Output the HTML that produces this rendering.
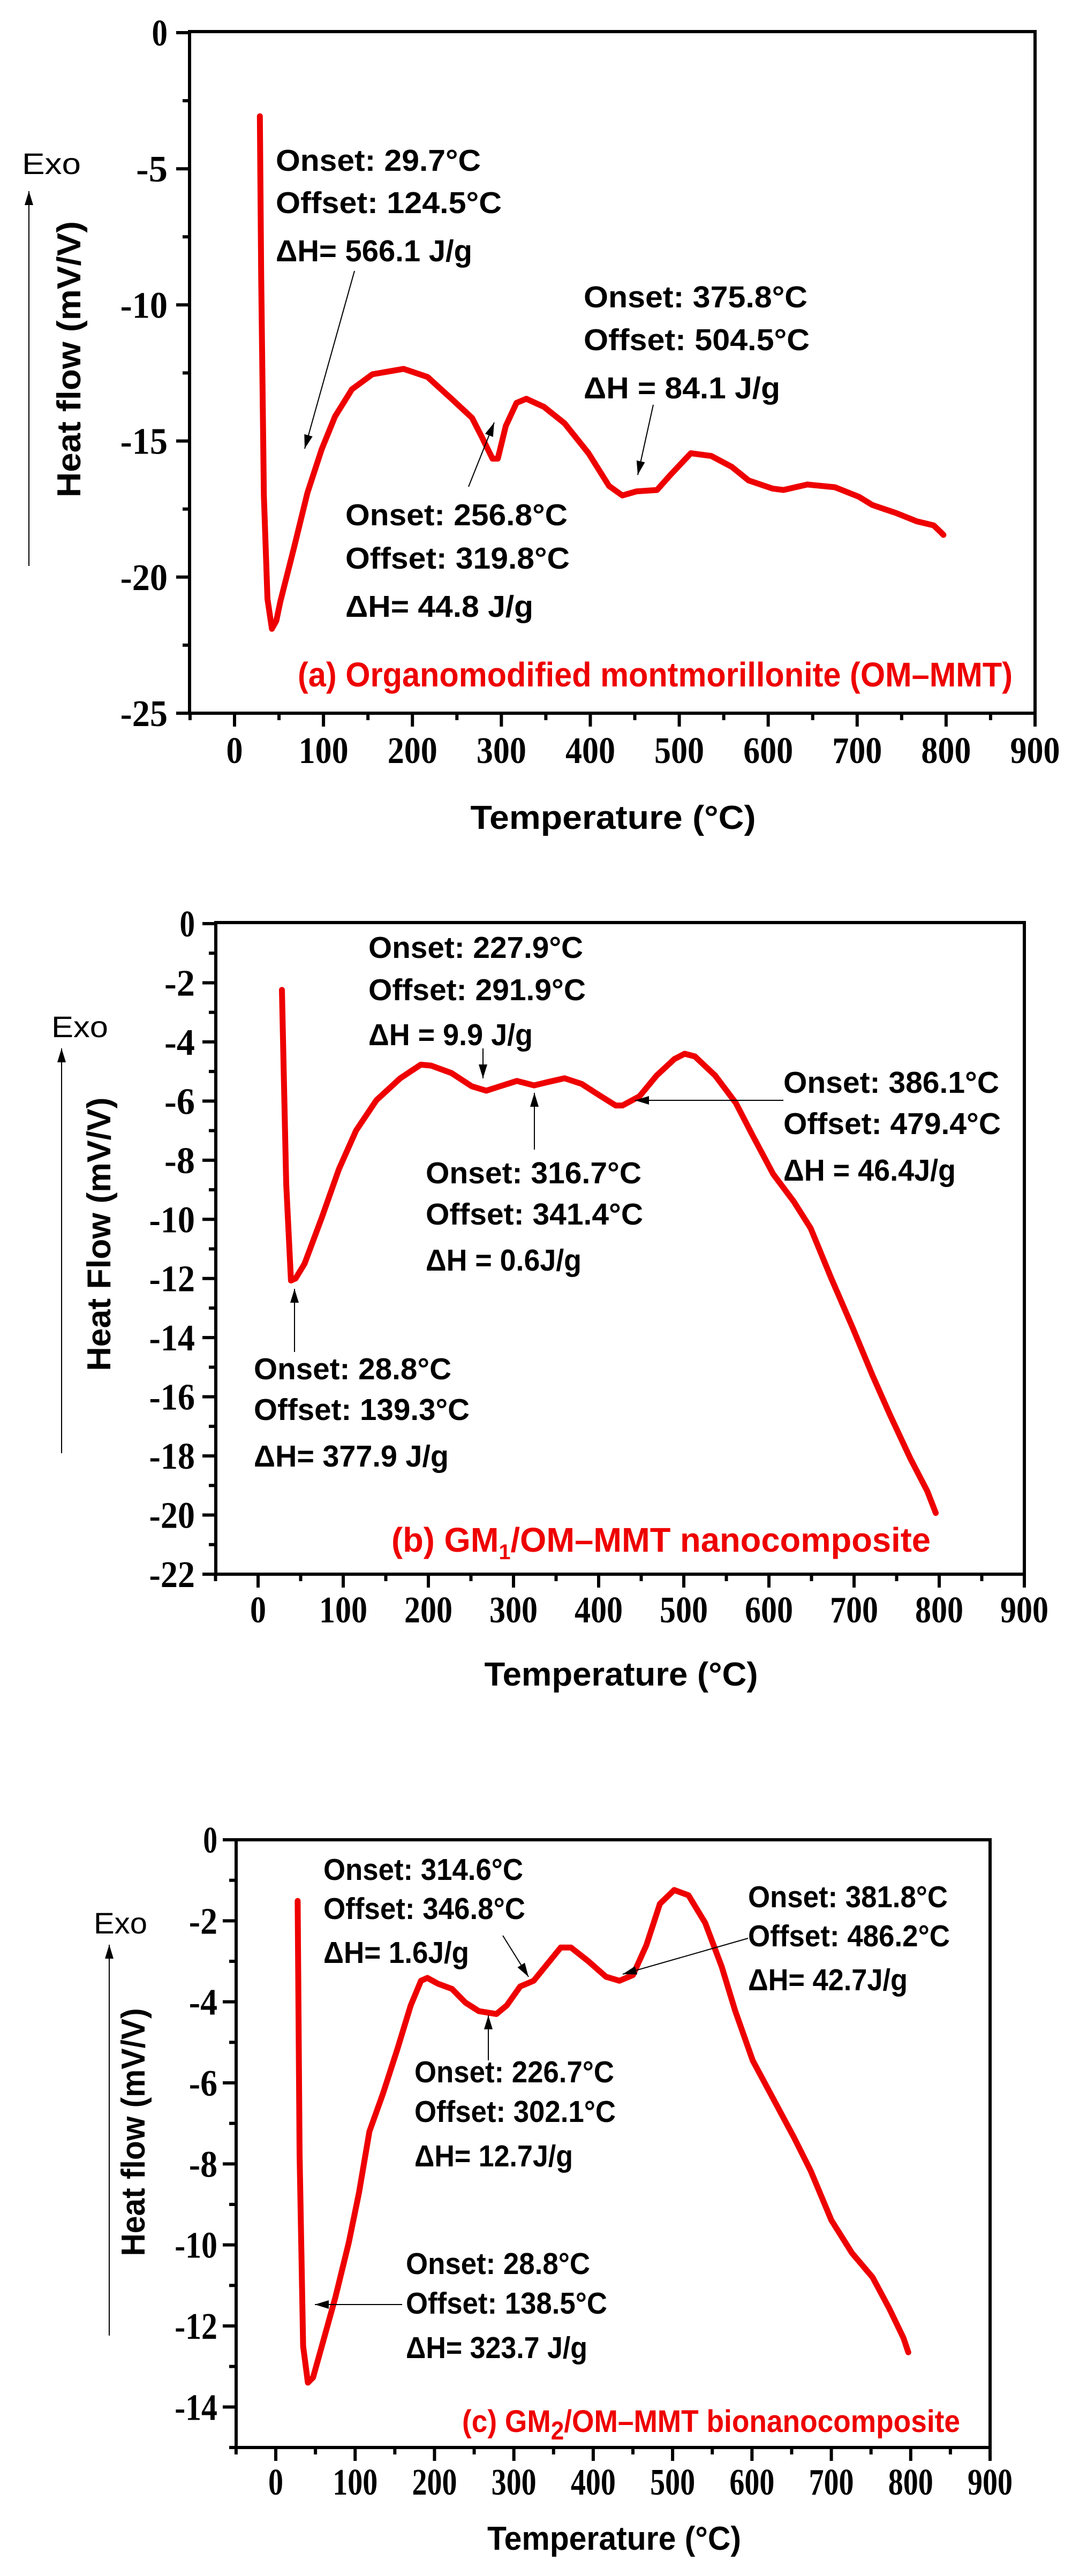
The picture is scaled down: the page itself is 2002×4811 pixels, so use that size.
<!DOCTYPE html>
<html><head><meta charset="utf-8"><style>
html,body{margin:0;padding:0;background:#fff;}
svg{display:block;}
.ann{font-family:"Liberation Sans",sans-serif;font-weight:bold;font-size:57px;fill:#000;}
.red{font-family:"Liberation Sans",sans-serif;font-weight:bold;fill:#ee0000;}
.exo{font-family:"Liberation Sans",sans-serif;font-size:56px;fill:#000;}
.ttl{font-family:"Liberation Sans",sans-serif;font-weight:bold;font-size:62px;fill:#000;}
.tick{font-family:"Liberation Serif",serif;font-weight:bold;font-size:70px;fill:#000;}
</style></head><body>
<svg id="fig" width="2002" height="4811" viewBox="0 0 2002 4811" xmlns="http://www.w3.org/2000/svg">
<defs><marker id="ah" viewBox="0 0 10 10" refX="10" refY="5" markerWidth="10" markerHeight="10" markerUnits="userSpaceOnUse" orient="auto"><path d="M0,0 L10,5 L0,10 z" fill="#000"/></marker>
<marker id="ahb" viewBox="0 0 10 10" refX="10" refY="5" markerWidth="26" markerHeight="16" markerUnits="userSpaceOnUse" orient="auto" preserveAspectRatio="none"><path d="M0,0 L10,5 L0,10 z" fill="#000"/></marker></defs>

<!-- Chart A -->
<g>
<g id="axA"></g>
<g id="curveA"></g>
<text class="exo" x="41" y="325" textLength="110" lengthAdjust="spacingAndGlyphs">Exo</text>
<line x1="54" y1="1057" x2="54" y2="357" stroke="#000" stroke-width="2" marker-end="url(#ahb)"/>
<text class="ttl" transform="translate(150,671) rotate(-90)" text-anchor="middle" textLength="516" lengthAdjust="spacingAndGlyphs">Heat flow (mV/V)</text>
<text class="ttl" x="1145" y="1548" text-anchor="middle" textLength="533" lengthAdjust="spacingAndGlyphs">Temperature (°C)</text>
<g>
<text class="ann" x="515" y="319" textLength="383" lengthAdjust="spacingAndGlyphs">Onset: 29.7°C</text>
<text class="ann" x="515" y="398" textLength="422" lengthAdjust="spacingAndGlyphs">Offset: 124.5°C</text>
<text class="ann" x="515" y="488" textLength="367" lengthAdjust="spacingAndGlyphs">ΔH= 566.1 J/g</text>
<line x1="662" y1="506" x2="569" y2="838" stroke="#000" stroke-width="2" marker-end="url(#ahb)"/></g>
<g>
<text class="ann" x="1090" y="574" textLength="418" lengthAdjust="spacingAndGlyphs">Onset: 375.8°C</text>
<text class="ann" x="1090" y="654" textLength="422" lengthAdjust="spacingAndGlyphs">Offset: 504.5°C</text>
<text class="ann" x="1090" y="744" textLength="367" lengthAdjust="spacingAndGlyphs">ΔH =  84.1 J/g</text>
<line x1="1220" y1="756" x2="1191" y2="887" stroke="#000" stroke-width="2" marker-end="url(#ahb)"/></g>
<g>
<text class="ann" x="645" y="981" textLength="415" lengthAdjust="spacingAndGlyphs">Onset: 256.8°C</text>
<text class="ann" x="645" y="1062" textLength="419" lengthAdjust="spacingAndGlyphs">Offset: 319.8°C</text>
<text class="ann" x="645" y="1152" textLength="351" lengthAdjust="spacingAndGlyphs">ΔH=  44.8 J/g</text>
<line x1="875" y1="909" x2="923" y2="789" stroke="#000" stroke-width="2" marker-end="url(#ahb)"/></g>
<text class="red" x="556" y="1282" font-size="64" textLength="1335" lengthAdjust="spacingAndGlyphs">(a) Organomodified montmorillonite (OM–MMT)</text>
</g>

<!-- Chart B -->
<g>
<g id="axB"></g>
<g id="curveB"></g>
<text class="exo" x="96" y="1937" textLength="106" lengthAdjust="spacingAndGlyphs">Exo</text>
<line x1="115" y1="2714" x2="115" y2="1958" stroke="#000" stroke-width="2" marker-end="url(#ahb)"/>
<text class="ttl" transform="translate(206,2305) rotate(-90)" text-anchor="middle" textLength="511" lengthAdjust="spacingAndGlyphs">Heat Flow (mV/V)</text>
<text class="ttl" x="1160" y="3148" text-anchor="middle" textLength="511" lengthAdjust="spacingAndGlyphs">Temperature (°C)</text>
<g>
<text class="ann" x="688" y="1789" textLength="401" lengthAdjust="spacingAndGlyphs">Onset: 227.9°C</text>
<text class="ann" x="688" y="1868" textLength="406" lengthAdjust="spacingAndGlyphs">Offset: 291.9°C</text>
<text class="ann" x="688" y="1952" textLength="307" lengthAdjust="spacingAndGlyphs">ΔH = 9.9 J/g</text>
<line x1="902" y1="1958" x2="902" y2="2014" stroke="#000" stroke-width="2" marker-end="url(#ahb)"/></g>
<g>
<text class="ann" x="795" y="2210" textLength="403" lengthAdjust="spacingAndGlyphs">Onset: 316.7°C</text>
<text class="ann" x="795" y="2287" textLength="406" lengthAdjust="spacingAndGlyphs">Offset: 341.4°C</text>
<text class="ann" x="795" y="2373" textLength="291" lengthAdjust="spacingAndGlyphs">ΔH = 0.6J/g</text>
<line x1="998" y1="2147" x2="998" y2="2041" stroke="#000" stroke-width="2" marker-end="url(#ahb)"/></g>
<g>
<text class="ann" x="1463" y="2041" textLength="403" lengthAdjust="spacingAndGlyphs">Onset: 386.1°C</text>
<text class="ann" x="1463" y="2118" textLength="406" lengthAdjust="spacingAndGlyphs">Offset: 479.4°C</text>
<text class="ann" x="1463" y="2205" textLength="322" lengthAdjust="spacingAndGlyphs">ΔH = 46.4J/g</text>
<line x1="1463" y1="2055" x2="1186" y2="2055" stroke="#000" stroke-width="2" marker-end="url(#ahb)"/></g>
<g>
<text class="ann" x="474" y="2576" textLength="369" lengthAdjust="spacingAndGlyphs">Onset: 28.8°C</text>
<text class="ann" x="474" y="2652" textLength="403" lengthAdjust="spacingAndGlyphs">Offset: 139.3°C</text>
<text class="ann" x="474" y="2739" textLength="364" lengthAdjust="spacingAndGlyphs">ΔH=  377.9 J/g</text>
<line x1="550" y1="2525" x2="550" y2="2407" stroke="#000" stroke-width="2" marker-end="url(#ahb)"/></g>
<text class="red" x="731" y="2898" font-size="64" textLength="1007" lengthAdjust="spacingAndGlyphs">(b) GM<tspan font-size="40" dy="14">1</tspan><tspan dy="-14">/OM–MMT nanocomposite</tspan></text>
</g>

<!-- Chart C -->
<g>
<g id="axC"></g>
<g id="curveC"></g>
<text class="exo" x="175" y="3611" textLength="100" lengthAdjust="spacingAndGlyphs">Exo</text>
<line x1="204" y1="4362" x2="204" y2="3632" stroke="#000" stroke-width="2" marker-end="url(#ahb)"/>
<text class="ttl" transform="translate(270,3982) rotate(-90)" text-anchor="middle" textLength="463" lengthAdjust="spacingAndGlyphs">Heat flow (mV/V)</text>
<text class="ttl" x="1147" y="4762" text-anchor="middle" textLength="474" lengthAdjust="spacingAndGlyphs">Temperature (°C)</text>
<g>
<text class="ann" x="604" y="3511" textLength="373" lengthAdjust="spacingAndGlyphs">Onset: 314.6°C</text>
<text class="ann" x="604" y="3584" textLength="377" lengthAdjust="spacingAndGlyphs">Offset: 346.8°C</text>
<text class="ann" x="604" y="3666" textLength="272" lengthAdjust="spacingAndGlyphs">ΔH=  1.6J/g</text>
<line x1="939" y1="3615" x2="987" y2="3692" stroke="#000" stroke-width="2" marker-end="url(#ahb)"/></g>
<g>
<text class="ann" x="1397" y="3562" textLength="373" lengthAdjust="spacingAndGlyphs">Onset: 381.8°C</text>
<text class="ann" x="1397" y="3635" textLength="377" lengthAdjust="spacingAndGlyphs">Offset: 486.2°C</text>
<text class="ann" x="1397" y="3717" textLength="298" lengthAdjust="spacingAndGlyphs">ΔH=  42.7J/g</text>
<line x1="1397" y1="3620" x2="1163" y2="3687" stroke="#000" stroke-width="2" marker-end="url(#ahb)"/></g>
<g>
<text class="ann" x="774" y="3889" textLength="373" lengthAdjust="spacingAndGlyphs">Onset: 226.7°C</text>
<text class="ann" x="774" y="3963" textLength="376" lengthAdjust="spacingAndGlyphs">Offset: 302.1°C</text>
<text class="ann" x="774" y="4046" textLength="296" lengthAdjust="spacingAndGlyphs">ΔH=  12.7J/g</text>
<line x1="912" y1="3848" x2="912" y2="3764" stroke="#000" stroke-width="2" marker-end="url(#ahb)"/></g>
<g>
<text class="ann" x="758" y="4247" textLength="344" lengthAdjust="spacingAndGlyphs">Onset: 28.8°C</text>
<text class="ann" x="758" y="4321" textLength="376" lengthAdjust="spacingAndGlyphs">Offset: 138.5°C</text>
<text class="ann" x="758" y="4404" textLength="339" lengthAdjust="spacingAndGlyphs">ΔH=  323.7 J/g</text>
<line x1="751" y1="4304" x2="588" y2="4304" stroke="#000" stroke-width="2" marker-end="url(#ahb)"/></g>
<text class="red" x="863" y="4542" font-size="58" textLength="930" lengthAdjust="spacingAndGlyphs">(c) GM<tspan font-size="48" dy="14">2</tspan><tspan dy="-14">/OM–MMT bionanocomposite</tspan></text>
</g>
</svg>
<script>
const xTicks=[0,100,200,300,400,500,600,700,800,900];
const yTicksA=[0,-5,-10,-15,-20,-25];
const yTicksB=[0,-2,-4,-6,-8,-10,-12,-14,-16,-18,-20,-22];
const yTicksC=[0,-2,-4,-6,-8,-10,-12,-14];
const tempA=[28.5,30,33,37,42,47,51.5,67,82,98,113,132,155,190,217,244,267,278,290,296,305,317,328,348,371,398,421,436,452,475,490,513,536,559,578,605,617,644,675,702,717,744,767,786,794,797];
const flowA=[-3.07,-9,-17,-20.8,-21.9,-21.6,-20.9,-18.9,-16.9,-15.3,-14.1,-13.1,-12.55,-12.35,-12.65,-13.45,-14.15,-14.85,-15.65,-15.65,-14.45,-13.6,-13.45,-13.75,-14.35,-15.45,-16.65,-17.0,-16.85,-16.8,-16.25,-15.45,-15.55,-15.95,-16.45,-16.75,-16.8,-16.6,-16.7,-17.05,-17.35,-17.65,-17.95,-18.1,-18.35,-18.45];
const tempB=[28,33,38.6,44,54.6,74.7,95,115,139,167,191,203,227,251,268,284,304,324,340,360,380,400,420,428,448,468,489,501,513,537,561,581,605,629,649,673,698,722,742,766,786,796];
const flowB=[-2.24,-8.8,-12.07,-12.0,-11.5,-9.95,-8.3,-7.0,-5.97,-5.23,-4.77,-4.8,-5.05,-5.5,-5.65,-5.5,-5.32,-5.47,-5.36,-5.23,-5.42,-5.79,-6.15,-6.15,-5.84,-5.14,-4.58,-4.4,-4.49,-5.14,-6.06,-7.17,-8.47,-9.39,-10.3,-11.98,-13.64,-15.3,-16.6,-18.08,-19.19,-19.93];
const tempC=[27.6,30,34.5,40.5,47,58,75,92,105,118,135,153,170,183,191,204,222,239,256,278,291,308,325,342,359,372,394,416,433,450,467,484,502,520,541,562,579,601,627,653,674,700,726,752,773,791,797];
const flowC=[-1.51,-7.76,-12.5,-13.4,-13.27,-12.5,-11.3,-9.94,-8.7,-7.2,-6.27,-5.18,-4.09,-3.48,-3.41,-3.55,-3.68,-4.02,-4.23,-4.3,-4.09,-3.62,-3.48,-3.07,-2.66,-2.66,-3.0,-3.38,-3.48,-3.34,-2.6,-1.58,-1.24,-1.37,-2.05,-3.14,-4.23,-5.45,-6.4,-7.35,-8.17,-9.39,-10.2,-10.8,-11.57,-12.3,-12.65];

const NS='http://www.w3.org/2000/svg';
function mk(tag,attrs,parent){const e=document.createElementNS(NS,tag);for(const k in attrs)e.setAttribute(k,attrs[k]);parent.appendChild(e);return e;}

function drawChart(axId,curveId,g,yTicks,yMinorStep,temps,flows){
  const ax=document.getElementById(axId);
  const sx=v=>g.x0+(v-0)*(g.x900-g.x0)/900;
  const sy=v=>g.y0+(v-0)*(g.yMinPx-g.y0)/g.yMin;
  // box
  const box=mk('rect',{x:g.left,y:g.top,width:g.right-g.left,height:g.bottom-g.top,fill:'none',stroke:'#000','stroke-width':6},ax);
  
  
  // x ticks
  for(let t=-50;t<=900;t+=50){
    const X=sx(t); const major=(t%100===0);
    const tk=mk('line',{x1:X,y1:g.bottom,x2:X,y2:g.bottom+(major?25:13),stroke:'#000','stroke-width':6},ax);
    
    
  }
  xTicks.forEach(t=>{
    const s=String(t);
    const lb=mk('text',{x:sx(t),y:g.xLabelY,'text-anchor':'middle','class':'tick',textLength:g.cw*s.length,lengthAdjust:'spacingAndGlyphs'},ax);
    lb.textContent=s;
    
    
  });
  // y ticks
  const ymin=yTicks[yTicks.length-1];
  for(let v=0;v>=g.yBottomVal-1e-9;v-=yMinorStep){
    const Y=sy(v); const major=yTicks.some(t=>Math.abs(t-v)<1e-9);
    const tk=mk('line',{x1:g.left,y1:Y,x2:g.left-(major?25:13),y2:Y,stroke:'#000','stroke-width':6},ax);
    
    
  }
  yTicks.forEach(t=>{
    const s=String(t);
    const lb=mk('text',{x:g.yLabelX,y:sy(t)+24,'text-anchor':'end','class':'tick',textLength:g.cw*s.length*0.95,lengthAdjust:'spacingAndGlyphs'},ax);
    lb.textContent=s;
    
    
  });
  // curve
  const cg=document.getElementById(curveId);
  const pts=temps.map((t,i)=>sx(t).toFixed(1)+','+sy(flows[i]).toFixed(1)).join(' ');
  const pl=mk('polyline',{points:pts,fill:'none',stroke:'#ee0000','stroke-width':11,'stroke-linejoin':'round','stroke-linecap':'round'},cg);
  
  
}

drawChart('axA','curveA',{left:354,right:1933,top:59,bottom:1332,x0:438,x900:1933,y0:61,yMin:-25,yMinPx:1332,yBottomVal:-25,xLabelY:1425,yLabelX:313,cw:31},yTicksA,2.5,tempA,flowA);
drawChart('axB','curveB',{left:403,right:1913,top:1723,bottom:2940,x0:482,x900:1913,y0:1725,yMin:-22,yMinPx:2940,yBottomVal:-22,xLabelY:3030,yLabelX:364,cw:30},yTicksB,1,tempB,flowB);
drawChart('axC','curveC',{left:441,right:1849,top:3436,bottom:4571,x0:515,x900:1849,y0:3436,yMin:-15,yMinPx:4571,yBottomVal:-15,xLabelY:4659,yLabelX:406,cw:28},yTicksC,1,tempC,flowC);
</script>
</body></html>
